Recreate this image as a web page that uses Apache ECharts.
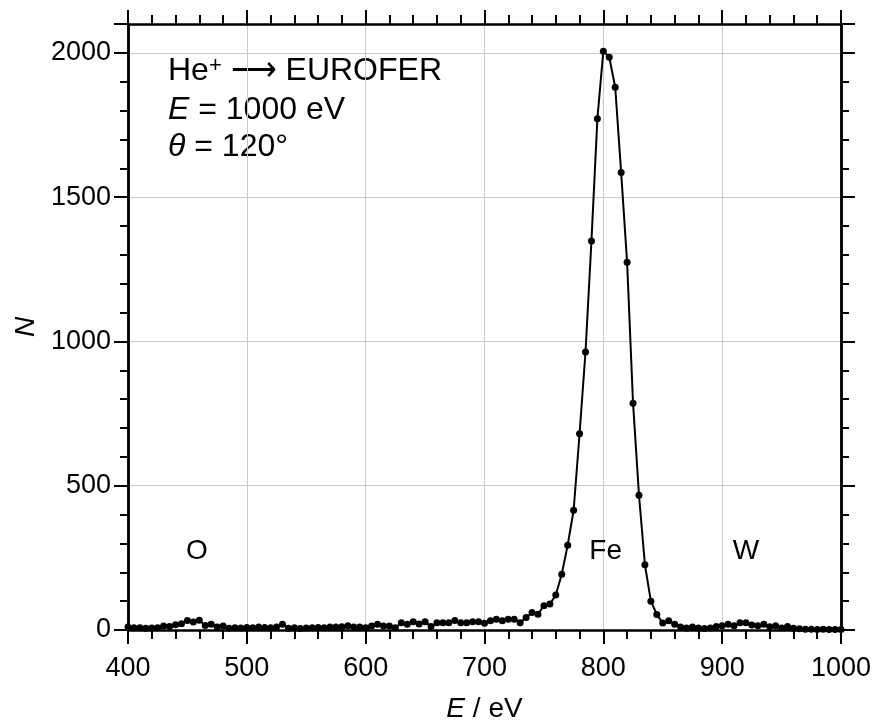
<!DOCTYPE html>
<html>
<head>
<meta charset="utf-8">
<script src="https://cdn.jsdelivr.net/npm/echarts@6/dist/echarts.min.js"></script>
<style>html,body{margin:0;padding:0;background:#fff;}#c{width:877px;height:728px;}</style>
</head>
<body>
<div id="c"></div>
<script>
const energies = [400,405,410,415,420,425,430,435,440,445,450,455,460,465,470,475,480,485,490,495,
500,505,510,515,520,525,530,535,540,545,550,555,560,565,570,575,580,585,590,595,
600,605,610,615,620,625,630,635,640,645,650,655,660,665,670,675,680,685,690,695,
700,705,710,715,720,725,730,735,740,745,750,755,760,765,770,775,780,785,790,795,
800,805,810,815,820,825,830,835,840,845,850,855,860,865,870,875,880,885,890,895,
900,905,910,915,920,925,930,935,940,945,950,955,960,965,970,975,980,985,990,995,1000];
const counts = [10,8,8,6,7,8,14,12,18,22,33,28,34,16,20,10,14,6,8,7,
9,8,10,9,8,10,20,6,8,5,7,8,9,8,10,10,11,15,10,10,
8,14,20,14,14,8,25,20,29,21,29,12,25,25,25,33,25,25,29,29,
23,32,37,32,37,37,25,43,61,55,84,90,121,193,294,415,680,963,1348,1772,
2006,1985,1881,1585,1274,786,467,226,100,54,24,32,20,10,7,10,7,5,7,12,
15,20,15,25,25,17,15,20,11,15,7,12,6,4,3,3,2,3,2,2,2];
const xTicks = [400,500,600,700,800,900,1000];
const yTicks = [0,500,1000,1500,2000];
const elementNames = ['O','Fe','W'];
const elementAnchorE = [458,802,920];
const elementAnchorN = [272,272,272];

const FONT = 'Liberation Sans, Arial, Helvetica, sans-serif';
const chart = echarts.init(document.getElementById('c'));
const points = energies.map((e,i)=>[e,counts[i]]);
const labelPts = elementNames.map((n,i)=>({value:[elementAnchorE[i],elementAnchorN[i]],name:n}));

const axisLine = {show:true,onZero:false,lineStyle:{color:'#000',width:2.5}};
const baseX = {type:'value',min:xTicks[0],max:xTicks[xTicks.length-1],interval:100};
const yMinor = {type:'value',min:0,max:2100,interval:100,gridIndex:0,
  axisLine:axisLine,axisTick:{show:true,inside:false,length:8,lineStyle:{color:'#000',width:2}},
  axisLabel:{show:false},splitLine:{show:false}};
const yMajorBase = {type:'value',min:0,max:2100,interval:500,
  axisLine:axisLine,axisTick:{show:true,inside:false,length:14,lineStyle:{color:'#000',width:2}}};

chart.setOption({
  animation:false,
  backgroundColor:'#fff',
  grid:{left:128,right:36,top:24,bottom:97,containLabel:false},
  xAxis:[
    Object.assign({},baseX,{position:'bottom',
      name:'{i|E}{n| / eV}',nameLocation:'middle',nameGap:65,
      nameTextStyle:{rich:{i:{fontStyle:'italic',fontSize:28,fontFamily:FONT,color:'#000'},n:{fontSize:28,fontFamily:FONT,color:'#000'}}},
      axisLine:axisLine,
      axisTick:{show:true,inside:false,length:14,lineStyle:{color:'#000',width:2}},
      minorTick:{show:true,splitNumber:5,length:9,lineStyle:{color:'#000',width:2}},
      axisLabel:{show:true,margin:25,fontSize:27,fontFamily:FONT,color:'#000',formatter:v=>String(v)},
      splitLine:{show:true,lineStyle:{color:'#c8c8c8',width:1}}}),
    Object.assign({},baseX,{position:'top',
      axisLine:axisLine,
      axisTick:{show:true,inside:false,length:14,lineStyle:{color:'#000',width:2}},
      minorTick:{show:true,splitNumber:5,length:9,lineStyle:{color:'#000',width:2}},
      axisLabel:{show:false},splitLine:{show:false}})
  ],
  yAxis:[
    Object.assign({},yMajorBase,{position:'left',
      name:'{i|N}',nameLocation:'middle',nameGap:88,
      nameTextStyle:{rich:{i:{fontStyle:'italic',fontSize:28,fontFamily:FONT,color:'#000'}}},
      axisLabel:{show:true,margin:17,fontSize:27,fontFamily:FONT,color:'#000',
        formatter:v=> yTicks.indexOf(v)>=0 ? String(v) : ''},
      splitLine:{show:true,lineStyle:{color:'#c8c8c8',width:1}}}),
    Object.assign({},yMajorBase,{position:'right',axisLabel:{show:false},splitLine:{show:false}}),
    Object.assign({},yMinor,{position:'left'}),
    Object.assign({},yMinor,{position:'right'})
  ],
  series:[
    {type:'line',data:points,xAxisIndex:0,yAxisIndex:0,
      symbol:'circle',symbolSize:7,showAllSymbol:true,
      lineStyle:{color:'#000',width:2},itemStyle:{color:'#000'},z:5},
    {type:'scatter',data:labelPts,xAxisIndex:0,yAxisIndex:0,symbolSize:0,silent:true,
      itemStyle:{color:'#000'},
      label:{show:true,position:'inside',formatter:p=>p.name,fontSize:28,fontFamily:FONT,
        color:'#000',textBorderWidth:0,textBorderColor:'transparent',opacity:1}}
  ],
  graphic:[
    {type:'text',left:168,top:55,style:{
      text:'{n|He}{s|+}{n| \u27F6 EUROFER}',
      rich:{n:{fontSize:32,fontFamily:FONT,fill:'#000'},s:{fontSize:22,fontFamily:FONT,fill:'#000',verticalAlign:'top'}}}},
    {type:'text',left:168,top:94,style:{
      text:'{i|E}{n| = 1000 eV}',
      rich:{i:{fontSize:32,fontFamily:FONT,fontStyle:'italic',fill:'#000'},n:{fontSize:32,fontFamily:FONT,fill:'#000'}}}},
    {type:'text',left:168,top:131,style:{
      text:'{i|\u03B8}{n| = 120\u00B0}',
      rich:{i:{fontSize:32,fontFamily:FONT,fontStyle:'italic',fill:'#000'},n:{fontSize:32,fontFamily:FONT,fill:'#000'}}}}
  ]
});
</script>
</body>
</html>
